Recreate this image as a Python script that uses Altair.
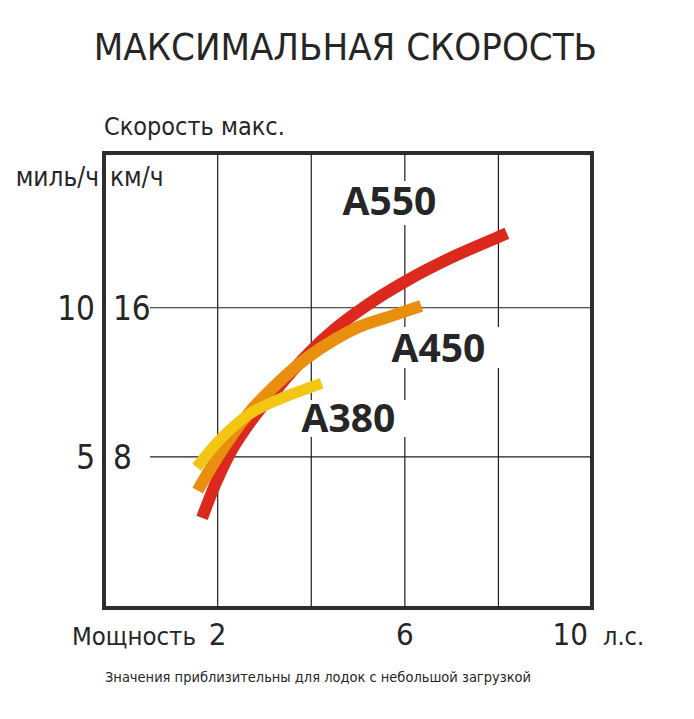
import altair as alt
import pandas as pd

# ---- data ----
a550_x = [1.665, 1.95, 2.22, 2.69, 3.3, 3.9, 4.5, 4.97, 5.5, 6.0, 7.0, 8.0, 8.18]
a550_y = [4.73, 6.55, 8.0, 9.85, 11.75, 13.45, 14.85, 15.75, 16.65, 17.4, 18.7, 19.8, 20.0]

a450_x = [1.57, 2.0, 2.68, 3.3, 3.9, 4.5, 5.0, 5.7, 6.35]
a450_y = [6.2, 8.0, 10.4, 12.0, 13.3, 14.3, 14.95, 15.55, 16.1]

a380_x = [1.55, 2.0, 2.68, 3.32, 4.0, 4.22]
a380_y = [7.45, 8.8, 10.3, 11.1, 11.75, 11.95]

grid_x = [2, 4, 6, 8]          # л.с.
grid_y = [8, 16]               # км/ч
x_tick_vals = [2, 6]
x_tick_labels = ["2", "6"]
x_last_val = 10
x_last_label = "10"
kmh_vals = [8, 16]
kmh_labels = ["8", "16"]
mph_labels = ["5", "10"]

title_text = "МАКСИМАЛЬНАЯ СКОРОСТЬ"
y_title = "Скорость макс."
mph_unit = "миль/ч"
kmh_unit = "км/ч"
x_title = "Мощность"
x_unit = "л.с."
footnote = "Значения приблизительны для лодок с небольшой загрузкой"

RED, ORANGE, YELLOW = "#dc291e", "#e98e0d", "#f3c614"
INK = "#262626"
NARROW = "DejaVu Sans Condensed, DejaVu Sans, sans-serif"
BOLD = "Open Sans, DejaVu Sans, sans-serif"

W, H = 488, 455
xs = alt.Scale(domain=[-0.43, 10.0], nice=False, zero=False)
ys = alt.Scale(domain=[-0.1, 24.3], nice=False, zero=False)


def X(f):
    return alt.X(f, type="quantitative", scale=xs, axis=None)


def Y(f):
    return alt.Y(f, type="quantitative", scale=ys, axis=None)


def label(text, x, y, size, align="left", font=NARROW, weight="normal", dx=0, dy=0):
    df = pd.DataFrame({"hp": [x], "kmh": [y], "t": [text]})
    return alt.Chart(df).mark_text(
        font=font, fontSize=size, align=align, baseline="alphabetic",
        fontWeight=weight, color=INK, dx=dx, dy=dy
    ).encode(x=X("hp"), y=Y("kmh"), text="t:N")


def box(x1, x2, y1, y2):
    df = pd.DataFrame({"a": [x1], "b": [x2], "c": [y1], "d": [y2]})
    return alt.Chart(df).mark_rect(color="white").encode(
        x=X("a"), x2="b", y=Y("c"), y2="d"
    )


def curve(xv, yv, color, width):
    df = pd.DataFrame({"hp": xv, "kmh": yv})
    return alt.Chart(df).mark_line(
        color=color, strokeWidth=width, interpolate="monotone", strokeCap="butt"
    ).encode(x=X("hp"), y=Y("kmh"))


vgrid = alt.Chart(pd.DataFrame({"g": grid_x})).mark_rule(
    color="#1e1e1e", strokeWidth=1.2
).encode(x=X("g"))

hdf = pd.DataFrame({"g": grid_y})
hdf["a"] = 0.553
hdf["b"] = 10.0
hgrid = alt.Chart(hdf).mark_rule(color="#1e1e1e", strokeWidth=1.2).encode(
    y=Y("g"), x=X("a"), x2="b"
)

boxes = [
    box(4.40, 6.965, 22.8, 20.44),
    box(5.576, 8.247, 14.97, 12.77),
    box(3.652, 6.11, 11.05, 9.07),
]

curves = [
    curve(a550_x, a550_y, RED, 12),
    curve(a450_x, a450_y, ORANGE, 12),
    curve(a380_x, a380_y, YELLOW, 11),
]

kmh_df = pd.DataFrame({"v": kmh_vals, "t": kmh_labels})
kmh_df["hp"] = -0.238
mph_df = pd.DataFrame({"v": kmh_vals, "t": mph_labels})
mph_df["hp"] = -0.622
xt_df = pd.DataFrame({"v": x_tick_vals, "t": x_tick_labels})
xt_df["kmh"] = -2.08

kmh_ticks = alt.Chart(kmh_df).mark_text(
    font=NARROW, fontSize=33, align="left", baseline="alphabetic", color=INK, dy=12
).encode(x=X("hp"), y=Y("v"), text="t:N")

mph_ticks = alt.Chart(mph_df).mark_text(
    font=NARROW, fontSize=33, align="right", baseline="alphabetic", color=INK, dy=12
).encode(x=X("hp"), y=Y("v"), text="t:N")

x_ticks = alt.Chart(xt_df).mark_text(
    font=NARROW, fontSize=31, align="center", baseline="alphabetic", color=INK
).encode(x=X("v"), y=Y("kmh"), text="t:N")

x_last = label(x_last_label, x_last_val, -2.08, 31, align="right", dx=-4)

texts = [
    label(title_text, 4.73, 29.29, 38, align="center"),
    label(y_title, -0.43, 25.27, 25),
    label(mph_unit, -0.537, 22.53, 26, align="right"),
    label(kmh_unit, -0.302, 22.53, 26),
    label(x_title, -1.114, -2.08, 25.5),
    label(x_unit, 10.235, -2.08, 25),
    label(footnote, -0.409, -4.07, 14.5),
    label("A550", 5.672, 20.98, 39, align="center", font=BOLD, weight="bold"),
    label("A450", 6.719, 13.09, 39, align="center", font=BOLD, weight="bold"),
    label("A380", 4.795, 9.34, 39, align="center", font=BOLD, weight="bold"),
]

chart = alt.layer(
    vgrid, hgrid, *boxes, *curves, kmh_ticks, mph_ticks, x_ticks, x_last, *texts
).properties(
    width=W, height=H,
    autosize=alt.AutoSizeParams(type="none"),
    padding={"left": 96, "top": 145, "right": 94, "bottom": 103},
    background="white",
).configure_view(
    stroke="#2e2e2e", strokeWidth=4
)

chart.save("out.html", embed_options={"renderer": "svg", "actions": False})
